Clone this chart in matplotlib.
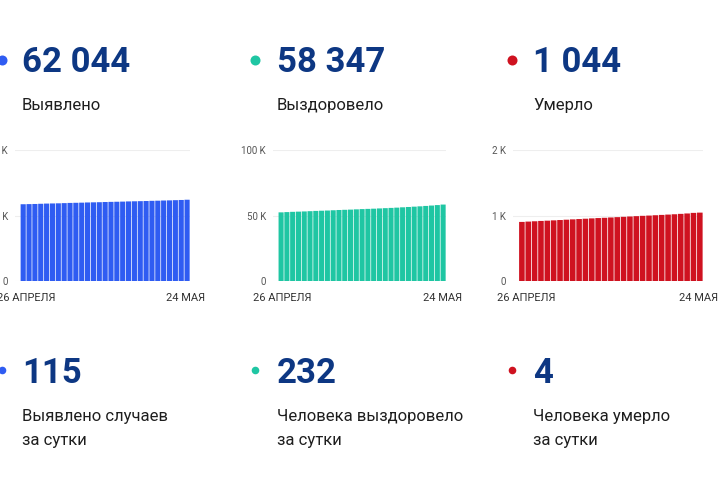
import matplotlib.pyplot as plt
import numpy as np

plt.rcParams['font.family'] = ['Roboto', 'DejaVu Sans']

# data
totals = ["62 044", "58 347", "1 044"]
total_labels = ["Выявлено", "Выздоровело", "Умерло"]
daily = ["115", "232", "4"]
daily_labels = [["Выявлено случаев", "за сутки"],
                ["Человека выздоровело", "за сутки"],
                ["Человека умерло", "за сутки"]]
colors = ["#2f5cf2", "#1fc6a3", "#cf1220"]
date_first, date_last = "26 АПРЕЛЯ", "24 МАЯ"

confirmed = [58.6, 58.7, 58.8, 58.95, 59.1, 59.2, 59.3, 59.45, 59.6, 59.7,
             59.8, 59.95, 60.05, 60.15, 60.3, 60.4, 60.5, 60.6, 60.75, 60.85,
             60.95, 61.05, 61.2, 61.3, 61.45, 61.55, 61.7, 61.85, 62.04]
recovered = [52.4, 52.6, 52.8, 52.95, 53.1, 53.3, 53.5, 53.65, 53.8, 54.0,
             54.2, 54.35, 54.5, 54.7, 54.9, 55.05, 55.2, 55.4, 55.6, 55.8,
             56.0, 56.25, 56.5, 56.75, 57.0, 57.3, 57.6, 57.95, 58.35]
deaths = [0.902, 0.907, 0.912, 0.917, 0.921, 0.926, 0.931, 0.936, 0.941, 0.946,
          0.951, 0.956, 0.961, 0.965, 0.970, 0.975, 0.980, 0.985, 0.990, 0.995,
          0.999, 1.004, 1.009, 1.014, 1.019, 1.025, 1.031, 1.040, 1.044]
series = [confirmed, recovered, deaths]
yticks = [[0, 50, 100], [0, 50, 100], [0, 1, 2]]
yticklabels = [["0", "50 K", "100 K"], ["0", "50 K", "100 K"], ["0", "1 K", "2 K"]]

W, H = 720, 480
fig = plt.figure(figsize=(7.2, 4.8), dpi=100)
fig.patch.set_facecolor("white")

def fx(x):
    return x / W

def fy(y):
    return 1 - y / H

navy = "#0d3783"
dark = "#1e1e1e"

# column layout (pixel positions)
dot_x = [2, 255, 512]
text_x = [22, 277, 533]
axes_px = [(15, 190), (273, 446), (513, 703)]  # grid start, bar end
label_left = [-3, 253, 497]
label_right = [205, 462, 718]

overlay = fig.add_axes([0, 0, 1, 1], zorder=5)
overlay.set_xlim(0, W)
overlay.set_ylim(H, 0)
overlay.axis("off")
overlay.patch.set_alpha(0)

for i in range(3):
    c = colors[i]
    overlay.scatter([dot_x[i]], [60], s=52, color=c, linewidths=0)
    overlay.scatter([dot_x[i]], [370], s=30, color=c, linewidths=0)

    fig.text(fx(text_x[i]), fy(72), totals[i], fontsize=25, fontweight="bold",
             color=navy, va="baseline", ha="left")
    fig.text(fx(text_x[i]), fy(110), total_labels[i], fontsize=12,
             color=dark, va="baseline", ha="left")
    fig.text(fx(text_x[i]), fy(383), daily[i], fontsize=25, fontweight="bold",
             color=navy, va="baseline", ha="left")
    fig.text(fx(text_x[i]), fy(421), daily_labels[i][0], fontsize=12,
             color=dark, va="baseline", ha="left")
    fig.text(fx(text_x[i]), fy(445), daily_labels[i][1], fontsize=12,
             color=dark, va="baseline", ha="left")

    # bar chart
    x0, x1 = axes_px[i]
    ax = fig.add_axes([fx(x0), fy(281), (x1 - x0) / W, 131 / H])
    vals = series[i]
    n = len(vals)
    xs = np.arange(n)
    bars = ax.bar(xs, vals, width=0.88, color=c, linewidth=0, zorder=2)
    for b in bars:
        b.set_snap(False)
    ax.set_xlim(-0.5 - 0.9, n - 0.5)
    ax.set_ylim(0, yticks[i][-1])
    ax.set_yticks(yticks[i])
    ax.set_yticklabels(yticklabels[i], fontsize=7, color="#555555")
    ax.tick_params(axis="y", length=0, pad=5)
    ax.set_xticks([])
    ax.grid(axis="y", color="#eeeeee", linewidth=0.8, zorder=0)
    for s in ax.spines.values():
        s.set_visible(False)
    ax.patch.set_alpha(0)

    fig.text(fx(label_left[i]), fy(301), date_first, fontsize=8,
             color="#333333", va="baseline", ha="left")
    fig.text(fx(label_right[i]), fy(301), date_last, fontsize=8,
             color="#333333", va="baseline", ha="right")

fig.savefig("out.png", dpi=100)
